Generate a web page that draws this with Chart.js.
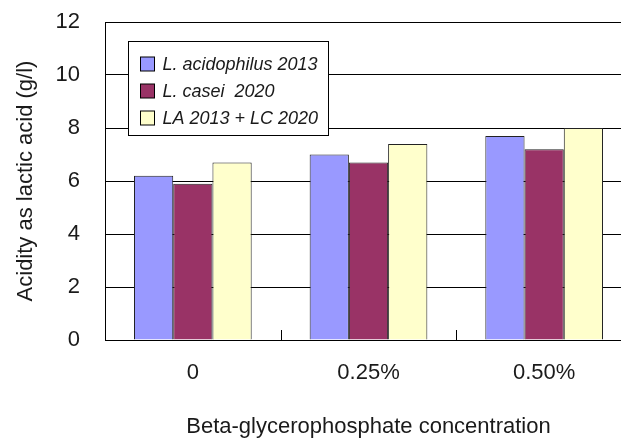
<!DOCTYPE html>
<html>
<head>
<meta charset="utf-8">
<script src="https://cdn.jsdelivr.net/npm/chart.js@4"></script>
<style>
  html, body { margin: 0; padding: 0; background: #fff; overflow: hidden; }
  #wrap { position: relative; width: 640px; height: 440px; }
</style>
</head>
<body>
<div id="wrap"><canvas id="c"></canvas></div>
<script>
// Beta-glycerophosphate concentrations
const categories = ['0', '0.25%', '0.50%'];
// Acidity (g/l lactic acid) per culture
const acidophilus2013 = [6.2, 7.0, 7.7];
const casei2020 = [5.9, 6.7, 7.2];
const mixed2013_2020 = [6.7, 7.4, 8.0];
const seriesNames = ['L. acidophilus 2013', 'L. casei  2020', 'LA 2013 + LC 2020'];
const seriesColors = ['#9999FF', '#993366', '#FFFFCC'];
const yTicks = [0, 2, 4, 6, 8, 10, 12];

const FONT = '"Liberation Sans", Arial, sans-serif';
const TEXT = '#1a1a1a';

// Small inward tick marks between categories on the x axis
const categoryTicks = {
  id: 'categoryTicks',
  afterDatasetsDraw(chart) {
    const { ctx, scales: { x }, chartArea } = chart;
    ctx.save();
    ctx.strokeStyle = '#000';
    ctx.lineWidth = 1;
    for (let i = 1; i < categories.length; i++) {
      const px = Math.round((x.getPixelForTick(i - 1) + x.getPixelForTick(i)) / 2) + 0.5;
      ctx.beginPath();
      ctx.moveTo(px, chartArea.bottom);
      ctx.lineTo(px, chartArea.bottom - 10);
      ctx.stroke();
    }
    ctx.restore();
  }
};

// Boxed legend placed inside the plot area
const insideLegend = {
  id: 'insideLegend',
  afterDatasetsDraw(chart) {
    const { ctx, chartArea } = chart;
    const left = Math.round(chartArea.left) + 23.5, top = Math.round(chartArea.top) + 19.5;
    const w = 200, h = 94;
    ctx.save();
    ctx.fillStyle = '#fff';
    ctx.strokeStyle = '#000';
    ctx.lineWidth = 1;
    ctx.fillRect(left, top, w, h);
    ctx.strokeRect(left, top, w, h);
    ctx.font = 'italic 18px ' + FONT;
    ctx.textBaseline = 'middle';
    chart.data.datasets.forEach((ds, i) => {
      const cy = Math.round(top + 22 + i * 27);
      ctx.fillStyle = ds.backgroundColor;
      ctx.fillRect(left + 12, cy - 7, 14, 14);
      ctx.strokeRect(left + 12, cy - 7, 14, 14);
      ctx.fillStyle = TEXT;
      ctx.fillText(ds.label, left + 34, cy + 1);
    });
    ctx.restore();
  }
};

const datasets = [acidophilus2013, casei2020, mixed2013_2020].map((vals, i) => ({
  label: seriesNames[i],
  data: vals,
  backgroundColor: seriesColors[i],
  borderColor: '#222',
  borderWidth: 1,
  borderSkipped: 'bottom',
  categoryPercentage: 0.67,
  barPercentage: 1.0
}));

new Chart(document.getElementById('c'), {
  type: 'bar',
  data: { labels: categories, datasets },
  options: {
    responsive: true,
    maintainAspectRatio: false,
    animation: false,
    layout: { padding: { top: 22, right: 8, bottom: 0, left: 0 } },
    plugins: {
      legend: { display: false },
      tooltip: { enabled: false }
    },
    scales: {
      x: {
        grid: { display: false, drawTicks: false },
        border: { display: true, color: '#000', width: 1 },
        ticks: { color: TEXT, font: { family: FONT, size: 22 }, padding: 20 },
        title: {
          display: true,
          text: 'Beta-glycerophosphate concentration',
          color: TEXT,
          font: { family: FONT, size: 22 },
          padding: { top: 0, bottom: 0 }
        },
        afterFit(scale) {
          scale.height = 100;
          scale.paddingLeft = 0;
          scale.paddingRight = 0;
        }
      },
      y: {
        min: 0,
        max: 12,
        afterBuildTicks(scale) { scale.ticks = yTicks.map(v => ({ value: v })); },
        grid: { color: '#000', lineWidth: 1, drawTicks: false },
        border: { display: true, color: '#000', width: 1 },
        ticks: { color: TEXT, font: { family: FONT, size: 22 }, padding: 25 },
        title: {
          display: true,
          text: 'Acidity as lactic acid (g/l)',
          color: TEXT,
          font: { family: FONT, size: 22 },
          padding: { top: 13, bottom: 0 }
        },
        afterFit(scale) {
          scale.width = 105;
          scale.paddingTop = 0;
          scale.paddingBottom = 0;
        }
      }
    }
  },
  plugins: [categoryTicks, insideLegend]
});
</script>
</body>
</html>
